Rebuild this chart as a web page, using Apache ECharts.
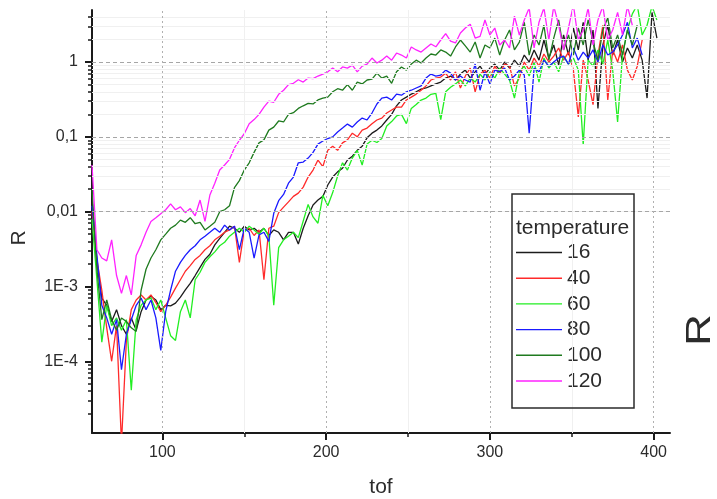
<!DOCTYPE html>
<html>
<head>
<meta charset="utf-8">
<script src="https://cdn.jsdelivr.net/npm/echarts@6/dist/echarts.min.js"></script>
<style>
  html, body { margin: 0; padding: 0; background: #fff; }
  #chart { width: 717px; height: 499px; }
</style>
</head>
<body>
<div id="chart"></div>
<script>
// Time-of-flight channels shared by every temperature curve
const tof = [
  57, 60, 63, 66, 69, 72, 75, 78, 81, 84,
  87, 90, 93, 96, 99, 102, 105, 108, 111, 114,
  117, 120, 123, 126, 129, 132, 135, 138, 141, 144,
  147, 150, 153, 156, 159, 162, 165, 168, 171, 174,
  177, 180, 183, 186, 189, 192, 195, 198, 201, 204,
  207, 210, 213, 216, 219, 222, 225, 228, 231, 234,
  237, 240, 243, 246, 249, 252, 255, 258, 261, 264,
  267, 270, 273, 276, 279, 282, 285, 288, 291, 294,
  297, 300, 303, 306, 309, 312, 315, 318, 321, 324,
  327, 330, 333, 336, 339, 342, 345, 348, 351, 354,
  357, 360, 363, 366, 369, 372, 375, 378, 381, 384,
  387, 390, 393, 396, 399, 402
];

// R values per temperature
const r16 = [
  0.015, 0.0021, 7e-4, 5.6e-4, 3.4e-4, 4.9e-4, 3.0e-4, 2.3e-4, 3.8e-4, 2.6e-4,
  4.6e-4, 6.6e-4, 7.4e-4, 6.6e-4, 4.9e-4, 5.6e-4, 5.5e-4, 6e-4, 7.2e-4, 9e-4,
  0.0011, 0.0014, 0.0018, 0.0023, 0.0027, 0.0036, 0.0044, 0.0053, 0.0064, 0.006,
  0.0053, 0.0064, 0.0057, 0.006, 0.0053, 0.006, 0.0048, 0.0057, 0.0053, 0.0042,
  0.0053, 0.0053, 0.0037, 0.006, 0.0088, 0.0123, 0.0143, 0.016, 0.0227, 0.029,
  0.034, 0.038, 0.049, 0.055, 0.066, 0.075, 0.097, 0.112, 0.123, 0.14,
  0.168, 0.2, 0.26, 0.311, 0.34, 0.373, 0.40, 0.435, 0.45, 0.48,
  0.51, 0.54, 0.61, 0.65, 0.575, 0.69, 0.78, 0.61, 0.74, 0.88,
  0.69, 0.83, 0.94, 0.78, 1.0, 0.83, 1.06, 0.88, 1.24, 1.0,
  1.45, 1.06, 1.97, 1.13, 1.69, 0.91, 2.3, 1.24, 2.85, 1.45,
  3.4, 1.06, 2.68, 0.24, 1.69, 3.1, 1.24, 1.97, 1.0, 1.54,
  1.13, 1.69, 1.06, 0.33, 4.6, 2.09
];
const r40 = [
  0.01, 0.0023, 8.9e-4, 2.8e-4, 1.0e-4, 3.0e-4, 8e-6, 1.9e-4, 4.9e-4, 6.6e-4,
  7.7e-4, 6.6e-4, 7.7e-4, 6.1e-4, 4.6e-4, 5.6e-4, 7.2e-4, 9.5e-4, 0.00123, 0.0016,
  0.0019, 0.0023, 0.0026, 0.0031, 0.0035, 0.0042, 0.0047, 0.0053, 0.0057, 0.0064,
  0.0021, 0.0057, 0.006, 0.0048, 0.0057, 0.00123, 0.006, 0.0064, 0.0097, 0.0115,
  0.0135, 0.016, 0.0177, 0.0213, 0.029, 0.036, 0.049, 0.04, 0.066, 0.075,
  0.066, 0.083, 0.091, 0.112, 0.1, 0.123, 0.131, 0.15, 0.168, 0.178,
  0.208, 0.228, 0.25, 0.25, 0.311, 0.34, 0.373, 0.42, 0.48, 0.575,
  0.61, 0.63, 0.71, 0.575, 0.74, 0.45, 0.65, 0.83, 0.40, 0.69,
  0.78, 0.61, 0.88, 0.69, 0.94, 0.88, 0.48, 0.61, 1.0, 0.78,
  1.13, 0.88, 1.28, 1.0, 1.2, 1.54, 1.06, 1.36, 0.78, 0.184,
  1.06, 0.575, 0.27, 1.24, 3.1, 0.311, 1.45, 1.0, 1.69, 0.78,
  0.575, 0.88, 1.97
];
const r60 = [
  0.008, 0.00123, 1.8e-4, 5.6e-4, 3e-4, 3.8e-4, 2.6e-4, 3.6e-4, 4.1e-5, 3.6e-4,
  5.6e-4, 6.6e-4, 7e-4, 4.9e-4, 6.6e-4, 3.8e-4, 2.2e-4, 1.9e-4, 4.6e-4, 6.6e-4,
  3.8e-4, 0.00123, 0.00155, 0.0021, 0.0025, 0.0029, 0.0035, 0.0039, 0.0047, 0.0053,
  0.006, 0.0053, 0.0064, 0.0057, 0.005, 0.006, 0.0047, 5.6e-4, 0.0033, 0.0042,
  0.0047, 0.0053, 0.0045, 0.0075, 0.0125, 0.0085, 0.007, 0.0165, 0.012, 0.018,
  0.03, 0.045, 0.036, 0.052, 0.066, 0.042, 0.08, 0.09, 0.084, 0.095,
  0.14, 0.16, 0.19, 0.2, 0.15, 0.24, 0.27, 0.31, 0.33, 0.37,
  0.38, 0.17, 0.40, 0.46, 0.51, 0.575, 0.48, 0.61, 0.54, 0.69,
  0.575, 0.74, 0.61, 0.83, 0.69, 0.575, 0.33, 0.74, 0.88, 0.65,
  1.0, 0.54, 1.13, 0.83, 1.0, 0.74, 1.2, 0.94, 1.13, 0.78,
  0.078, 1.06, 0.88, 1.45, 0.94, 1.97, 0.78, 0.158, 1.24, 2.68,
  4.4, 5.8, 2.3, 3.1, 5.6, 3.65
];
const r80 = [
  0.012, 0.0026, 5.6e-4, 3.8e-4, 2.3e-4, 3.6e-4, 7.7e-5, 2.3e-4, 3.6e-4, 5.6e-4,
  7e-4, 4.9e-4, 6.6e-4, 3.8e-4, 1.4e-4, 4.6e-4, 8.9e-4, 0.0016, 0.0021, 0.0026,
  0.0031, 0.0035, 0.0042, 0.0047, 0.0053, 0.006, 0.0053, 0.0066, 0.0057, 0.0064,
  0.0031, 0.006, 0.0053, 0.0024, 0.0049, 0.0053, 0.004, 0.0095, 0.014, 0.017,
  0.024, 0.029, 0.045, 0.046, 0.052, 0.062, 0.08, 0.088, 0.095, 0.1,
  0.116, 0.131, 0.148, 0.135, 0.158, 0.178, 0.168, 0.208, 0.275, 0.33,
  0.34, 0.311, 0.373, 0.36, 0.40, 0.42, 0.45, 0.48, 0.61, 0.69,
  0.65, 0.67, 0.78, 0.71, 0.575, 0.65, 0.575, 0.54, 0.94, 0.42,
  0.74, 0.51, 0.78, 0.74, 0.83, 0.575, 0.65, 0.78, 0.67, 0.112,
  0.83, 0.74, 1.06, 0.88, 1.0, 1.13, 1.2, 0.94, 1.54, 1.06,
  1.36, 1.13, 1.45, 1.0, 1.69, 1.24, 1.36, 1.69, 2.3, 3.4,
  1.54, 2.09, 1.24
];
const r100 = [
  0.02, 0.0017, 3.6e-4, 6.6e-4, 3.6e-4, 2.6e-4, 3.8e-4, 3.4e-4, 2.8e-4, 2.5e-4,
  8.9e-4, 0.0017, 0.0024, 0.0031, 0.0042, 0.005, 0.006, 0.0066, 0.0077, 0.0072,
  0.0083, 0.0069, 0.0072, 0.0057, 0.0064, 0.0072, 0.01, 0.0106, 0.012, 0.021,
  0.026, 0.036, 0.045, 0.062, 0.083, 0.091, 0.123, 0.135, 0.163, 0.158,
  0.2, 0.21, 0.24, 0.26, 0.28, 0.275, 0.311, 0.33, 0.34, 0.40,
  0.44, 0.42, 0.50, 0.42, 0.54, 0.51, 0.575, 0.59, 0.71, 0.61,
  0.65, 0.52, 0.74, 0.86, 0.78, 0.94, 1.06, 0.97, 1.13, 1.28,
  1.24, 1.45, 1.36, 1.2, 1.59, 1.97, 1.64, 1.36, 1.85, 1.13,
  1.69, 1.54, 2.09, 1.24, 1.97, 2.68, 1.45, 1.85, 3.4, 1.24,
  2.3, 1.69, 3.1, 1.06, 2.09, 3.65, 1.45, 2.3, 1.24, 2.85,
  1.69, 3.65, 1.85, 1.06, 2.68, 3.9, 1.54, 2.3, 1.24, 2.68,
  1.69, 3.1
];
const r120 = [
  0.042, 0.0031, 0.0024, 0.0022, 0.0042, 0.0014, 8.1e-4, 0.0014, 7.7e-4, 0.0026,
  0.0036, 0.0053, 0.0074, 0.0083, 0.0094, 0.0106, 0.0127, 0.0106, 0.0116, 0.0097,
  0.011, 0.0088, 0.0143, 0.0074, 0.0167, 0.024, 0.036, 0.042, 0.05, 0.071,
  0.09, 0.11, 0.15, 0.17, 0.2, 0.25, 0.3, 0.29, 0.37, 0.42,
  0.5, 0.52, 0.58, 0.54, 0.61, 0.6, 0.65, 0.69, 0.74, 0.83,
  0.74, 0.86, 0.83, 0.91, 0.74, 0.88, 0.94, 1.13, 0.97, 1.06,
  1.2, 1.06, 1.32, 1.24, 1.13, 1.59, 1.45, 1.36, 1.54, 1.74,
  1.6, 1.97, 2.4, 1.9, 1.8, 2.44, 2.85, 3.2, 2.09, 2.2,
  3.65, 2.3, 2.85, 1.69, 1.97, 1.54, 4.1, 2.3, 3.65, 5.3,
  1.54, 3.4, 5.3, 1.97, 5.6, 3.1, 1.45, 2.85, 5.8, 1.97,
  2.68, 5.3, 1.69, 3.65, 5.6, 1.97, 2.68, 4.6, 2.3, 5.6,
  3.1
];

const temperatures = ['16', '40', '60', '80', '100', '120'];
const seriesValues = [r16, r40, r60, r80, r100, r120];
const lineColors = ['#1c1c1c', '#ff2a2a', '#22ee22', '#1a1aff', '#1f7a1f', '#ff22ff'];

// Axis ticks and labels
const xRange = [57, 410];
const xTickValues = [100, 200, 300, 400];
const xMinorValues = [150, 250, 350];
const yRange = [1.1e-5, 4.96];
const yTickValues = [1e-4, 1e-3, 0.01, 0.1, 1];
const yTickLabels = ['1E-4', '1E-3', '0,01', '0,1', '1'];
const yMinorValues = [];
for (let e = -5; e <= 0; e++) {
  for (let m = 2; m <= 9; m++) {
    const v = +(m * Math.pow(10, e)).toPrecision(3);
    if (v > yRange[0] && v < yRange[1]) yMinorValues.push(v);
  }
}

const FONT = '"Liberation Sans", Arial, sans-serif';
const AXIS_COLOR = '#1a1a1a';
const TEXT_COLOR = '#2b2b2b';

function yLabel(v) {
  const e = Math.round(Math.log10(v));
  const k = yTickValues.findIndex(t => Math.round(Math.log10(t)) === e);
  return k >= 0 ? yTickLabels[k] : '';
}

// Grid lines, drawn underneath the curves
const gridLines = {
  type: 'line',
  data: [],
  silent: true,
  z: 1,
  markLine: {
    silent: true,
    animation: false,
    symbol: ['none', 'none'],
    label: { show: false },
    emphasis: { disabled: true },
    data: [
      ...yMinorValues.map(v => ({ yAxis: v, lineStyle: { color: '#f0f0f0', type: 'solid', width: 1 } })),
      ...xMinorValues.map(v => ({ xAxis: v, lineStyle: { color: '#f0f0f0', type: 'solid', width: 1 } })),
      ...yTickValues.map(v => ({ yAxis: v, lineStyle: { color: '#a6a6a6', type: [4, 3], width: 1 } })),
      ...xTickValues.map(v => ({ xAxis: v, lineStyle: { color: '#b0b0b0', type: [2, 3], width: 1 } }))
    ]
  }
};

const curves = temperatures.map((name, k) => ({
  name: name,
  type: 'line',
  symbol: 'none',
  showSymbol: false,
  animation: false,
  z: 3,
  lineStyle: { color: lineColors[k], width: 1.3 },
  itemStyle: { color: lineColors[k] },
  emphasis: { disabled: true },
  data: seriesValues[k].map((v, i) => [tof[i], v])
}));

const chart = echarts.init(document.getElementById('chart'), null, { renderer: 'canvas' });
chart.setOption({
  animation: false,
  backgroundColor: '#ffffff',
  textStyle: { fontFamily: FONT },
  grid: { left: 92, right: 47, top: 10, bottom: 66, containLabel: false, outerBoundsMode: 'none' },
  xAxis: [
    {
      type: 'value', position: 'bottom', min: xRange[0], max: xRange[1],
      name: 'tof', nameLocation: 'middle', nameGap: 44,
      nameTextStyle: { fontSize: 21, color: TEXT_COLOR, fontFamily: FONT },
      axisLine: { show: true, onZero: false, lineStyle: { color: AXIS_COLOR, width: 2 } },
      axisTick: { show: true, customValues: xTickValues, length: 7, lineStyle: { color: AXIS_COLOR, width: 2 } },
      axisLabel: { customValues: xTickValues, fontSize: 16, color: TEXT_COLOR, margin: 12, fontFamily: FONT },
      splitLine: { show: false }, minorTick: { show: false }, minorSplitLine: { show: false }
    },
    {
      type: 'value', position: 'bottom', min: xRange[0], max: xRange[1],
      axisLine: { show: false, onZero: false },
      axisTick: { show: true, customValues: xMinorValues, length: 4, lineStyle: { color: AXIS_COLOR, width: 1.5 } },
      axisLabel: { show: false }, splitLine: { show: false }
    }
  ],
  yAxis: [
    {
      type: 'log', logBase: 10, position: 'left', min: yRange[0], max: yRange[1],
      axisLine: { show: true, onZero: false, lineStyle: { color: AXIS_COLOR, width: 2 } },
      axisTick: { show: true, customValues: yTickValues, length: 7, lineStyle: { color: AXIS_COLOR, width: 2 } },
      axisLabel: { customValues: yTickValues, formatter: yLabel, fontSize: 16, color: TEXT_COLOR, margin: 14, fontFamily: FONT },
      splitLine: { show: false }, minorTick: { show: false }, minorSplitLine: { show: false }
    },
    {
      type: 'log', logBase: 10, position: 'left', min: yRange[0], max: yRange[1],
      axisLine: { show: false, onZero: false },
      axisTick: { show: true, customValues: yMinorValues, length: 4, lineStyle: { color: AXIS_COLOR, width: 1.5 } },
      axisLabel: { show: false }, splitLine: { show: false }
    }
  ],
  legend: {
    data: temperatures,
    orient: 'vertical',
    left: 516,
    top: 242,
    padding: 0,
    icon: 'rect',
    itemWidth: 46,
    itemHeight: 1.4,
    itemGap: 4.7,
    selectedMode: false,
    textStyle: { fontSize: 21, color: TEXT_COLOR, fontFamily: FONT }
  },
  graphic: [
    { type: 'rect', silent: true, z: 10, shape: { x: 512, y: 194, width: 122, height: 214 },
      style: { fill: 'none', stroke: '#2b2b2b', lineWidth: 1.5 } },
    { type: 'text', silent: true, z: 11, x: 516, y: 228,
      style: { text: 'temperature', fontSize: 21, fontFamily: FONT, fill: TEXT_COLOR, align: 'left', verticalAlign: 'middle' } },
    { type: 'text', silent: true, z: 11, x: 19, y: 238, rotation: Math.PI / 2,
      style: { text: 'R', fontSize: 21, fontFamily: FONT, fill: TEXT_COLOR, align: 'center', verticalAlign: 'middle' } },
    { type: 'text', silent: true, z: 11, x: 700, y: 330, rotation: Math.PI / 2, scaleX: 1.25,
      style: { text: 'R', fontSize: 35, fontFamily: FONT, fill: TEXT_COLOR, align: 'center', verticalAlign: 'middle' } }
  ],
  series: [gridLines, ...curves]
});
</script>
</body>
</html>
